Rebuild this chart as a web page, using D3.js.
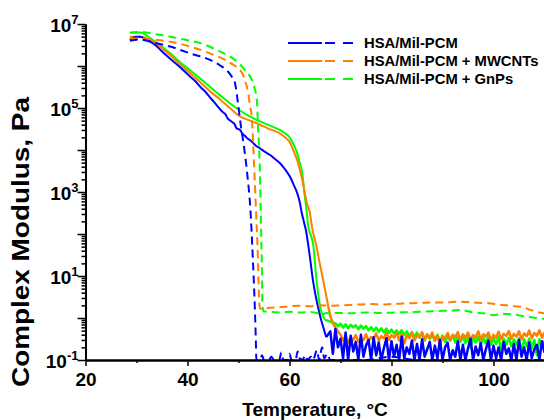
<!DOCTYPE html>
<html>
<head>
<meta charset="utf-8">
<script src="https://cdn.jsdelivr.net/npm/d3@7"></script>
<style>
body { margin: 0; background: #fff; }
svg { font-family: "Liberation Sans", Arial, sans-serif; font-weight: bold; }
</style>
</head>
<body>
<div id="chart"></div>
<script>
// legend names and colours
const seriesNames = ['HSA/Mil-PCM', 'HSA/Mil-PCM + MWCNTs', 'HSA/Mil-PCM + GnPs'];
const seriesColors = ['#0000ff', '#ff8000', '#00ff00'];

const xTicks = [20, 40, 60, 80, 100];
const xMinorTicks = [30, 50, 70, 90, 110];
const yLabelExps = [-1, 1, 3, 5, 7];

// solid curves, [temperature °C, complex modulus Pa]
const blueSolid = [[28.7,4.2e6],[29.7,4.9e6],[30.7,5.0e6],[32.1,4.2e6],[33.6,3.2e6],[35.6,1.9e6],[37.0,1.35e6],[38.5,9.5e5],
  [40.5,5.6e5],[41.5,4.4e5],[42.5,3.2e5],[43.4,2.5e5],[44.4,1.8e5],[45.4,1.3e5],[46.4,9.3e4],[47.0,7.8e4],[47.4,7.2e4],
  [47.9,5.6e4],[48.3,5.1e4],[48.8,4.6e4],[49.2,4.2e4],[49.6,3.3e4],[50.3,3.0e4],[50.8,2.4e4],[51.2,2.2e4],[51.7,1.9e4],
  [52.3,1.7e4],[52.8,1.5e4],[53.3,1.3e4],[54.2,1.1e4],[55.2,9.0e3],[56.2,7.6e3],[57.1,6.2e3],[58.1,4.9e3],[59.1,3.5e3],
  [60.1,2.3e3],[60.8,1.5e3],[61.5,9.5e2],[62.0,5.8e2],[62.4,3.2e2],[62.8,2.0e2],[63.2,1.26e2],[63.9,35],[64.6,7.9],
  [65.1,3.5],[65.6,1.8],[66.1,1.0],[66.6,0.62],[67.2,0.35]];
const orangeSolid = [[28.7,5.0e6],[30.7,5.0e6],[32.6,4.2e6],[34.6,2.9e6],[36.6,1.8e6],[38.5,1.1e6],[40.5,6.8e5],[42.5,4.1e5],
  [44.4,2.5e5],[46.4,1.6e5],[48.3,1.0e5],[50.3,6.3e4],[52.3,5.0e4],[54.2,4.0e4],[56.2,3.1e4],[58.1,2.5e4],[59.1,2.0e4],
  [60.1,1.5e4],[60.8,9.5e3],[61.5,5.8e3],[62.0,3.5e3],[62.5,1.95e3],[63.4,5.5e2],[64.0,3.2e2],[64.4,1.48e2],[65.3,50],
  [66.0,18],[66.6,7.9],[67.6,1.9]];
const greenSolid = [[28.7,6.2e6],[30.7,6.3e6],[32.6,4.7e6],[34.6,3.1e6],[36.6,2.0e6],[38.5,1.25e6],[40.5,7.9e5],[42.5,5.0e5],
  [44.4,3.2e5],[46.4,2.0e5],[48.3,1.3e5],[50.3,8.7e4],[52.3,6.2e4],[54.2,4.8e4],[56.2,3.8e4],[58.1,3.0e4],[59.1,2.5e4],
  [60.1,1.95e4],[60.8,1.35e4],[61.5,8.5e3],[62.0,5.0e3],[62.5,2.8e3],[63.0,7.9e2],[63.4,3.2e2],[63.6,1.8e2],[64.7,50],
  [65.3,7.9],[66.0,1.9],[67.0,0.9]];

// noisy tails of the solid curves, sampled at tailTemps
const tailTemps = [68,68.5,69,69.5,70,70.5,71,71.5,72,72.5,73,73.5,74,74.5,75,75.5,76,76.5,77,77.5,78,78.5,79,79.5,
  80,80.5,81,81.5,82,82.5,83,83.5,84,84.5,85,85.5,86,86.5,87,87.5,88,88.5,89,89.5,90,90.5,91,91.5,92,92.5,93,93.5,
  94,94.5,95,95.5,96,96.5,97,97.5,98,98.5,99,99.5,100,100.5,101,101.5,102,102.5,103,103.5,104,104.5,105,105.5,
  106,106.5,107,107.5,108,108.5,109,109.5,110];
const blueTail = [0.48,0.14,0.55,0.2,0.32,0.11,0.45,0.1,0.38,0.16,0.27,0.1,0.4,0.12,0.22,0.3,0.1,0.35,0.13,0.26,
  0.1,0.19,0.33,0.1,0.28,0.12,0.23,0.1,0.36,0.11,0.2,0.14,0.29,0.1,0.24,0.1,0.31,0.12,0.18,0.27,
  0.1,0.22,0.11,0.3,0.1,0.2,0.26,0.1,0.17,0.12,0.28,0.1,0.23,0.1,0.19,0.32,0.1,0.21,0.13,0.25,
  0.1,0.18,0.29,0.1,0.22,0.11,0.2,0.1,0.27,0.14,0.19,0.1,0.24,0.1,0.3,0.12,0.2,0.1,0.26,0.11,
  0.18,0.23,0.1,0.28,0.15];
const orangeTail = [1.1,0.76,0.6,0.48,0.4,0.29,0.37,0.26,0.34,0.3,0.39,0.27,0.33,0.3,0.41,0.28,0.35,0.32,0.43,0.29,
  0.37,0.33,0.46,0.3,0.39,0.34,0.44,0.29,0.41,0.25,0.38,0.33,0.44,0.29,0.39,0.35,0.46,0.3,0.4,0.34,0.45,0.29,0.38,0.22,
  0.36,0.33,0.44,0.3,0.4,0.35,0.46,0.29,0.41,0.34,0.45,0.3,0.39,0.35,0.48,0.31,0.41,0.36,0.45,0.29,0.4,0.34,0.47,0.31,
  0.42,0.37,0.49,0.32,0.42,0.36,0.48,0.31,0.43,0.37,0.5,0.33,0.44,0.38,0.51,0.34,0.46];
const greenTail = [0.82,0.78,0.74,0.64,0.73,0.59,0.71,0.57,0.69,0.6,0.67,0.54,0.66,0.56,0.64,0.51,0.61,0.49,0.59,0.47,
  0.57,0.46,0.56,0.44,0.53,0.43,0.51,0.41,0.51,0.39,0.48,0.37,0.46,0.35,0.45,0.34,0.43,0.29,0.41,0.32,0.39,0.29,0.4,0.28,
  0.38,0.27,0.37,0.29,0.38,0.26,0.36,0.27,0.37,0.25,0.35,0.19,0.36,0.26,0.35,0.24,0.34,0.25,0.36,0.23,0.33,0.24,0.35,0.17,
  0.32,0.23,0.34,0.21,0.31,0.23,0.33,0.15,0.31,0.21,0.32,0.19,0.3,0.13,0.31,0.2,0.29];

// dashed curves
const blueDashed = [[28.7,4.0e6],[30.5,4.3e6],[33.0,3.7e6],[36.6,2.9e6],[40.5,2.0e6],[44.4,1.4e6],[46.3,1.05e6],[47.7,7.9e5],
  [48.6,5.8e5],[49.3,4.0e5],[49.9,1.3e5],[50.5,3.5e4],[50.9,1.7e4],[51.7,2.8e3],[52.3,4.4e2],[52.8,28],[53.2,1.8],
  [53.4,0.3],[53.5,0.1],[54.2,0.1],[54.6,0.13],[55.0,0.1],[56.0,0.1],[56.4,0.12],[57.0,0.1],[58.0,0.1],[58.4,0.15],
  [58.8,0.1],[59.6,0.1],[60.0,0.14],[60.4,0.1],[61.2,0.1],[61.6,0.16],[62.0,0.11],[62.6,0.1],[63.0,0.13],[63.6,0.1],
  [64.2,0.12],[64.6,0.1],[65.4,0.17],[65.8,0.1],[66.4,0.2],[66.8,0.11],[67.4,0.14],[68,0.1],[75,0.1],[80,0.12],
  [85,0.1],[95,0.1],[110,0.1]];
const orangeDashed = [[28.7,4.5e6],[30.7,4.6e6],[33.5,4.2e6],[36.6,3.8e6],[40.5,2.9e6],[44.4,2.0e6],[48.3,1.2e6],[50.7,6.8e5],
  [51.4,4.0e5],[51.9,2.3e5],[52.3,1.05e5],[52.6,6.2e4],[52.9,1.2e4],[53.4,4.4e2],[53.8,28],[54.0,4.0],[54.2,1.7],
  [55,1.6],[56,1.75],[58,1.8],[60,1.9],[62,1.95],[64,1.9],[66,2.0],[68,1.95],[70,2.0],[72,2.05],[74,2.1],[76,2.15],
  [78,2.1],[80,2.15],[82,2.2],[84,2.25],[86,2.3],[88,2.35],[90,2.35],[92,2.4],[93.4,2.45],[95,2.4],[97,2.3],[99,2.25],
  [101,2.1],[102.5,2.0],[104,1.9],[105.5,1.85],[107,1.6],[108.5,1.4],[110,1.3]];
const greenDashed = [[28.7,6.2e6],[31.0,6.5e6],[33.5,5.8e6],[36.6,5.0e6],[40.0,4.1e6],[42.5,3.5e6],[46.4,2.2e6],[49.3,1.4e6],
  [51.3,7.9e5],[52.8,4.0e5],[53.6,1.55e5],[53.8,4.4e4],[54.2,2.8e3],[54.4,1.8e2],[54.6,12],[54.7,2.0],[54.9,1.45],
  [56,1.4],[58,1.35],[60,1.4],[62,1.35],[64,1.4],[65.5,1.3],[66.2,1.12],[67,1.3],[69,1.32],[72,1.3],[75,1.35],[78,1.32],
  [81,1.36],[84,1.38],[86,1.41],[88,1.45],[90,1.48],[92,1.5],[93.5,1.55],[95,1.45],[96,1.35],[98,1.3],[100,1.17],
  [102,1.25],[104,1.22],[106,1.1],[108,1.02],[110,0.95]];

const width = 544, height = 420;
const svg = d3.select('#chart').append('svg').attr('width', width).attr('height', height);

const x = d3.scaleLinear().domain([20, 110]).range([85.5, 544.5]);
const y = d3.scaleLog().domain([0.1, 1e7]).range([360, 24]);

svg.append('clipPath').attr('id', 'plotclip')
  .append('rect').attr('x', 85.5).attr('y', 0).attr('width', 460).attr('height', 360);

const smooth = d3.line().x(d => x(d[0])).y(d => y(d[1])).curve(d3.curveMonotoneX);
const rough = d3.line().x(d => x(d[0])).y(d => y(d[1]));
const plot = svg.append('g').attr('clip-path', 'url(#plotclip)');

const mains = [blueSolid, orangeSolid, greenSolid];
const tails = [blueTail, orangeTail, greenTail];
const dashed = [blueDashed, orangeDashed, greenDashed];

// green under orange under blue
[2, 1, 0].forEach(i => {
  const main = mains[i];
  const tail = [main[main.length - 1]].concat(tailTemps.map((t, j) => [t, tails[i][j]]));
  plot.append('path').datum(main).attr('d', smooth)
    .attr('fill', 'none').attr('stroke', seriesColors[i]).attr('stroke-width', 2);
  plot.append('path').datum(tail).attr('d', rough)
    .attr('fill', 'none').attr('stroke', seriesColors[i]).attr('stroke-width', 2.5)
    .attr('stroke-linejoin', 'round');
});
[2, 1, 0].forEach(i => {
  plot.append('path').datum(dashed[i]).attr('d', smooth)
    .attr('fill', 'none').attr('stroke', seriesColors[i]).attr('stroke-width', 2)
    .attr('stroke-dasharray', '8,5');
});

// axes
const yMajor = d3.range(-1, 8).map(e => Math.pow(10, e));
const yMinor = [];
d3.range(-1, 7).forEach(e => { for (let m = 2; m < 10; m++) yMinor.push(m * Math.pow(10, e)); });

const yMinorAxis = svg.append('g').attr('transform', 'translate(85.5,0)')
  .call(d3.axisLeft(y).tickValues(yMinor).tickSize(4).tickSizeOuter(0).tickFormat(''));
const yAxis = svg.append('g').attr('transform', 'translate(85.5,0)')
  .call(d3.axisLeft(y).tickValues(yMajor).tickSize(8).tickSizeOuter(0).tickFormat(''));

yAxis.selectAll('.tick')
  .filter(d => yLabelExps.includes(Math.round(Math.log10(d))))
  .append('text')
  .attr('x', -7).attr('y', 7).attr('text-anchor', 'end').attr('fill', '#000')
  .style('font-size', '19px')
  .each(function(d) {
    const t = d3.select(this);
    t.append('tspan').text('10');
    t.append('tspan').attr('dy', -8).style('font-size', '13px').text(Math.round(Math.log10(d)));
  });

const xMinorAxis = svg.append('g').attr('transform', 'translate(0,360)')
  .call(d3.axisBottom(x).tickValues(xMinorTicks).tickSize(3).tickSizeOuter(0).tickFormat(''));
const xAxis = svg.append('g').attr('transform', 'translate(0,360)')
  .call(d3.axisBottom(x).tickValues(xTicks).tickSize(6).tickSizeOuter(0).tickFormat(d3.format('d')));
xAxis.selectAll('text').attr('y', 13).attr('dy', '0.71em').style('font-size', '19px').attr('fill', '#000');

[yMinorAxis, yAxis, xMinorAxis, xAxis].forEach(g => {
  g.select('.domain').attr('stroke', '#000').attr('stroke-width', 2);
  g.selectAll('.tick line').attr('stroke', '#000').attr('stroke-width', 1.5);
});

// titles
svg.append('text').attr('x', 315).attr('y', 416).attr('text-anchor', 'middle')
  .style('font-size', '19px').text('Temperature, °C');
svg.append('text').attr('transform', 'translate(29,242) rotate(-90)').attr('text-anchor', 'middle')
  .attr('textLength', 290).attr('lengthAdjust', 'spacingAndGlyphs')
  .style('font-size', '24px').text('Complex Modulus, Pa');

// legend
const legend = svg.append('g');
seriesNames.forEach((name, i) => {
  const ly = 43 + i * 18;
  legend.append('line').attr('x1', 288).attr('x2', 322).attr('y1', ly).attr('y2', ly)
    .attr('stroke', seriesColors[i]).attr('stroke-width', 2);
  legend.append('line').attr('x1', 325).attr('x2', 353).attr('y1', ly).attr('y2', ly)
    .attr('stroke', seriesColors[i]).attr('stroke-width', 2).attr('stroke-dasharray', '10,8');
  legend.append('text').attr('x', 364).attr('y', ly).attr('dy', '0.35em')
    .style('font-size', '14.8px').text(name);
});
</script>
</body>
</html>
